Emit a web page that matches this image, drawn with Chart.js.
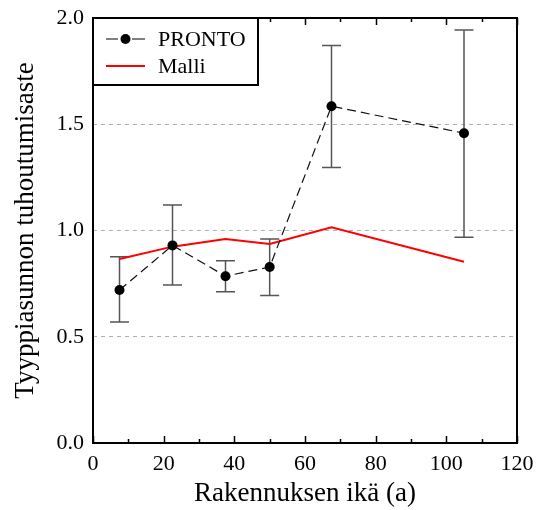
<!DOCTYPE html>
<html>
<head>
<meta charset="utf-8">
<script src="https://cdn.jsdelivr.net/npm/chart.js@4.4.1/dist/chart.umd.min.js"></script>
<style>
  html, body { margin: 0; padding: 0; background: #fff; }
  #wrap { width: 540px; height: 510px; position: relative; }
</style>
</head>
<body>
<div id="wrap"><canvas id="c" width="540" height="510"></canvas></div>
<script>
// ---- data ----
const ages = [7.5, 22.5, 37.5, 50, 67.5, 105];
const prontoValues = [0.72, 0.93, 0.785, 0.828, 1.585, 1.458];
const prontoLower = [0.57, 0.744, 0.712, 0.694, 1.296, 0.968];
const prontoUpper = [0.876, 1.12, 0.858, 0.96, 1.871, 1.944];
const malliValues = [0.866, 0.924, 0.96, 0.937, 1.015, 0.853];
const xTickValues = [0, 20, 40, 60, 80, 100, 120];
const xMinorTickValues = [10, 30, 50, 70, 90, 110];
const yTickValues = [0.0, 0.5, 1.0, 1.5, 2.0];
const seriesNames = ['PRONTO', 'Malli'];
const xTitle = 'Rakennuksen ikä (a)';
const yTitle = 'Tyyppiasunnon tuhoutumisaste';

const FONT = "'Liberation Serif', 'Times New Roman', serif";

const errorBars = {
  id: 'errorBars',
  beforeDatasetsDraw(chart) {
    const ctx = chart.ctx, xs = chart.scales.x, ys = chart.scales.y;
    ctx.save();
    ctx.strokeStyle = '#555';
    ctx.lineWidth = 1.5;
    for (let i = 0; i < ages.length; i++) {
      const px = xs.getPixelForValue(ages[i]);
      const pl = ys.getPixelForValue(prontoLower[i]);
      const pu = ys.getPixelForValue(prontoUpper[i]);
      ctx.beginPath();
      ctx.moveTo(px, pl); ctx.lineTo(px, pu);
      ctx.moveTo(px - 9.5, pl); ctx.lineTo(px + 9.5, pl);
      ctx.moveTo(px - 9.5, pu); ctx.lineTo(px + 9.5, pu);
      ctx.stroke();
    }
    ctx.restore();
  }
};

const frameAndTicks = {
  id: 'frameAndTicks',
  afterDatasetsDraw(chart) {
    const ctx = chart.ctx, a = chart.chartArea, xs = chart.scales.x;
    ctx.save();
    ctx.strokeStyle = '#000';
    ctx.lineWidth = 1.5;
    const drawTick = (v, len) => {
      const px = Math.round(xs.getPixelForValue(v)) + 0.5;
      ctx.beginPath();
      ctx.moveTo(px, a.bottom); ctx.lineTo(px, a.bottom - len);
      ctx.moveTo(px, a.top); ctx.lineTo(px, a.top + len);
      ctx.stroke();
    };
    xTickValues.forEach(v => drawTick(v, 7));
    xMinorTickValues.forEach(v => drawTick(v, 4));
    ctx.lineWidth = 2;
    ctx.strokeRect(a.left, a.top, a.right - a.left, a.bottom - a.top);
    ctx.restore();
  }
};

const boxLegend = {
  id: 'boxLegend',
  afterDraw(chart) {
    const ctx = chart.ctx, a = chart.chartArea;
    const ds = chart.data.datasets;
    const x0 = a.left, y0 = a.top, w = 165, h = 67;
    ctx.save();
    ctx.fillStyle = '#fff';
    ctx.fillRect(x0, y0, w, h);
    ctx.strokeStyle = '#000';
    ctx.lineWidth = 2;
    ctx.strokeRect(x0, y0, w, h);
    const r1 = y0 + 21, r2 = y0 + 48;
    ctx.strokeStyle = '#555';
    ctx.lineWidth = 1.5;
    ctx.beginPath();
    ctx.moveTo(x0 + 13, r1); ctx.lineTo(x0 + 25, r1);
    ctx.moveTo(x0 + 39, r1); ctx.lineTo(x0 + 52, r1);
    ctx.stroke();
    ctx.fillStyle = '#000';
    ctx.beginPath();
    ctx.arc(x0 + 32.5, r1, 5, 0, Math.PI * 2);
    ctx.fill();
    ctx.strokeStyle = ds[1].borderColor;
    ctx.lineWidth = 2;
    ctx.beginPath();
    ctx.moveTo(x0 + 13, r2); ctx.lineTo(x0 + 52, r2);
    ctx.stroke();
    ctx.fillStyle = '#000';
    ctx.font = "22px " + FONT;
    ctx.textBaseline = 'middle';
    ctx.textAlign = 'left';
    ctx.fillText(ds[0].label, x0 + 65, r1 + 1);
    ctx.fillText(ds[1].label, x0 + 65, r2 + 1);
    ctx.restore();
  }
};

function noOverhang(s) {
  s.paddingTop = 0; s.paddingBottom = 0; s.paddingLeft = 0; s.paddingRight = 0;
}

new Chart(document.getElementById('c'), {
  type: 'line',
  data: {
    datasets: [
      {
        label: seriesNames[0],
        data: ages.map((x, i) => ({ x, y: prontoValues[i] })),
        borderColor: '#111',
        borderWidth: 1.2,
        borderDash: [9, 5],
        pointRadius: 5,
        pointBackgroundColor: '#000',
        pointBorderColor: '#000',
        pointBorderWidth: 0,
        tension: 0,
        fill: false
      },
      {
        label: seriesNames[1],
        data: ages.map((x, i) => ({ x, y: malliValues[i] })),
        borderColor: '#ff0000',
        borderWidth: 2,
        pointRadius: 0,
        tension: 0,
        fill: false
      }
    ]
  },
  options: {
    responsive: false,
    animation: false,
    devicePixelRatio: 1,
    layout: { padding: { left: 0, right: 23, top: 18, bottom: 0 } },
    plugins: {
      legend: { display: false },
      tooltip: { enabled: false }
    },
    scales: {
      x: {
        type: 'linear',
        min: 0, max: 120,
        afterFit(s) { s.height = 67; noOverhang(s); },
        afterBuildTicks(s) { s.ticks = xTickValues.map(v => ({ value: v })); },
        grid: { display: false, drawTicks: false },
        border: { display: false },
        ticks: {
          color: '#000',
          font: { family: FONT, size: 22 },
          padding: 8,
          maxRotation: 0,
          autoSkip: false
        },
        title: {
          display: true,
          text: xTitle,
          color: '#000',
          font: { family: FONT, size: 27 },
          padding: { top: 0, bottom: 0 }
        }
      },
      y: {
        min: 0, max: 2,
        afterFit(s) { s.width = 93; noOverhang(s); },
        afterBuildTicks(s) { s.ticks = yTickValues.map(v => ({ value: v })); },
        grid: {
          drawTicks: false,
          color: ctx => (ctx.tick && (ctx.tick.value === 0 || ctx.tick.value === 2)) ? 'rgba(0,0,0,0)' : '#b0b0b0',
          lineWidth: 1
        },
        border: { display: false, dash: [4, 4] },
        ticks: {
          color: '#000',
          font: { family: FONT, size: 22 },
          padding: 9,
          callback: v => Number(v).toFixed(1)
        },
        title: {
          display: true,
          text: yTitle,
          color: '#000',
          font: { family: FONT, size: 27 },
          padding: { top: 10, bottom: 0 }
        }
      }
    }
  },
  plugins: [errorBars, frameAndTicks, boxLegend]
});
</script>
</body>
</html>
